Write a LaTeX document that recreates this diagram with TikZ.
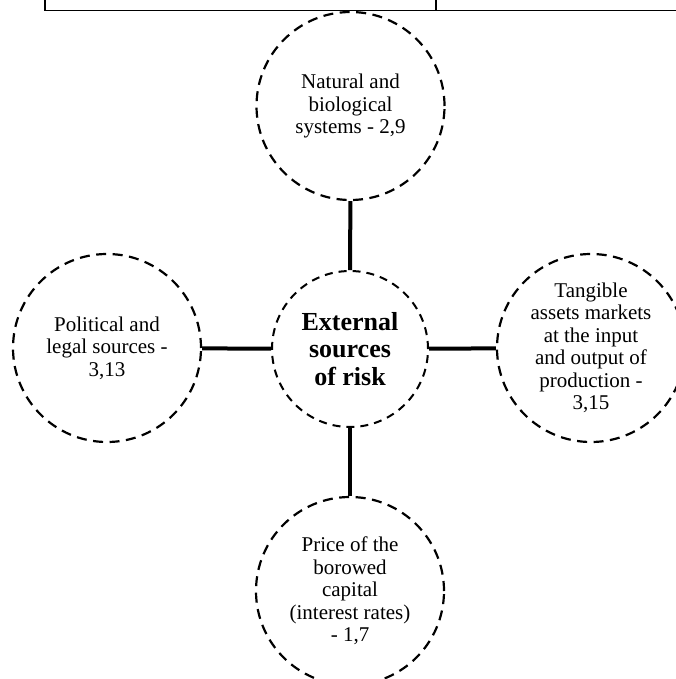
\documentclass[tikz,border=0pt]{standalone}
\usepackage{fontspec}
\setmainfont{Liberation Serif}
\begin{document}
\begin{tikzpicture}[x=1pt,y=-1pt,
  source/.style={circle, draw, line width=2.2pt, dash pattern=on 10pt off 6.5pt,
    minimum size=188pt, inner sep=0pt, align=center,
    font=\fontsize{21}{22.5}\selectfont},
  hub/.style={circle, draw, line width=2pt, dash pattern=on 8pt off 6pt,
    minimum size=156pt, inner sep=0pt, align=center,
    font=\fontsize{26}{27.5}\selectfont\bfseries},
  link/.style={line width=4pt},
  rule/.style={line width=1.8pt}]
\useasboundingbox (0,0) rectangle (676,679);

% bottom edge of the table above
\coordinate (tl) at (45,-2);
\coordinate (tm) at (436,-2);
\coordinate (bl) at (45,10.5);
\coordinate (bm) at (436,10.5);
\coordinate (br) at (678,10.5);
\draw[rule] (tl) -- (bl) -- (br);
\draw[rule] (tm) -- (bm);

% risk sources
\node[hub] (ext) at (350,349) {External\\sources\\of risk};
\node[source] (nat) at (350.5,106) {Natural and\\biological\\systems - 2,9};
\node[source] (pol) at (107,348) {Political and\\legal sources -\\3,13};
\node[source] (tan) at (591,348) {Tangible\\assets markets\\at the input\\and output of\\production -\\3,15};
\node[source] (pri) at (350,591) {Price of the\\borowed\\capital\\(interest rates)\\- 1,7};

% connectors
\draw[link] (nat) -- (ext);
\draw[link] (pol) -- (ext);
\draw[link] (ext) -- (tan);
\draw[link] (ext) -- (pri);
\end{tikzpicture}
\end{document}
